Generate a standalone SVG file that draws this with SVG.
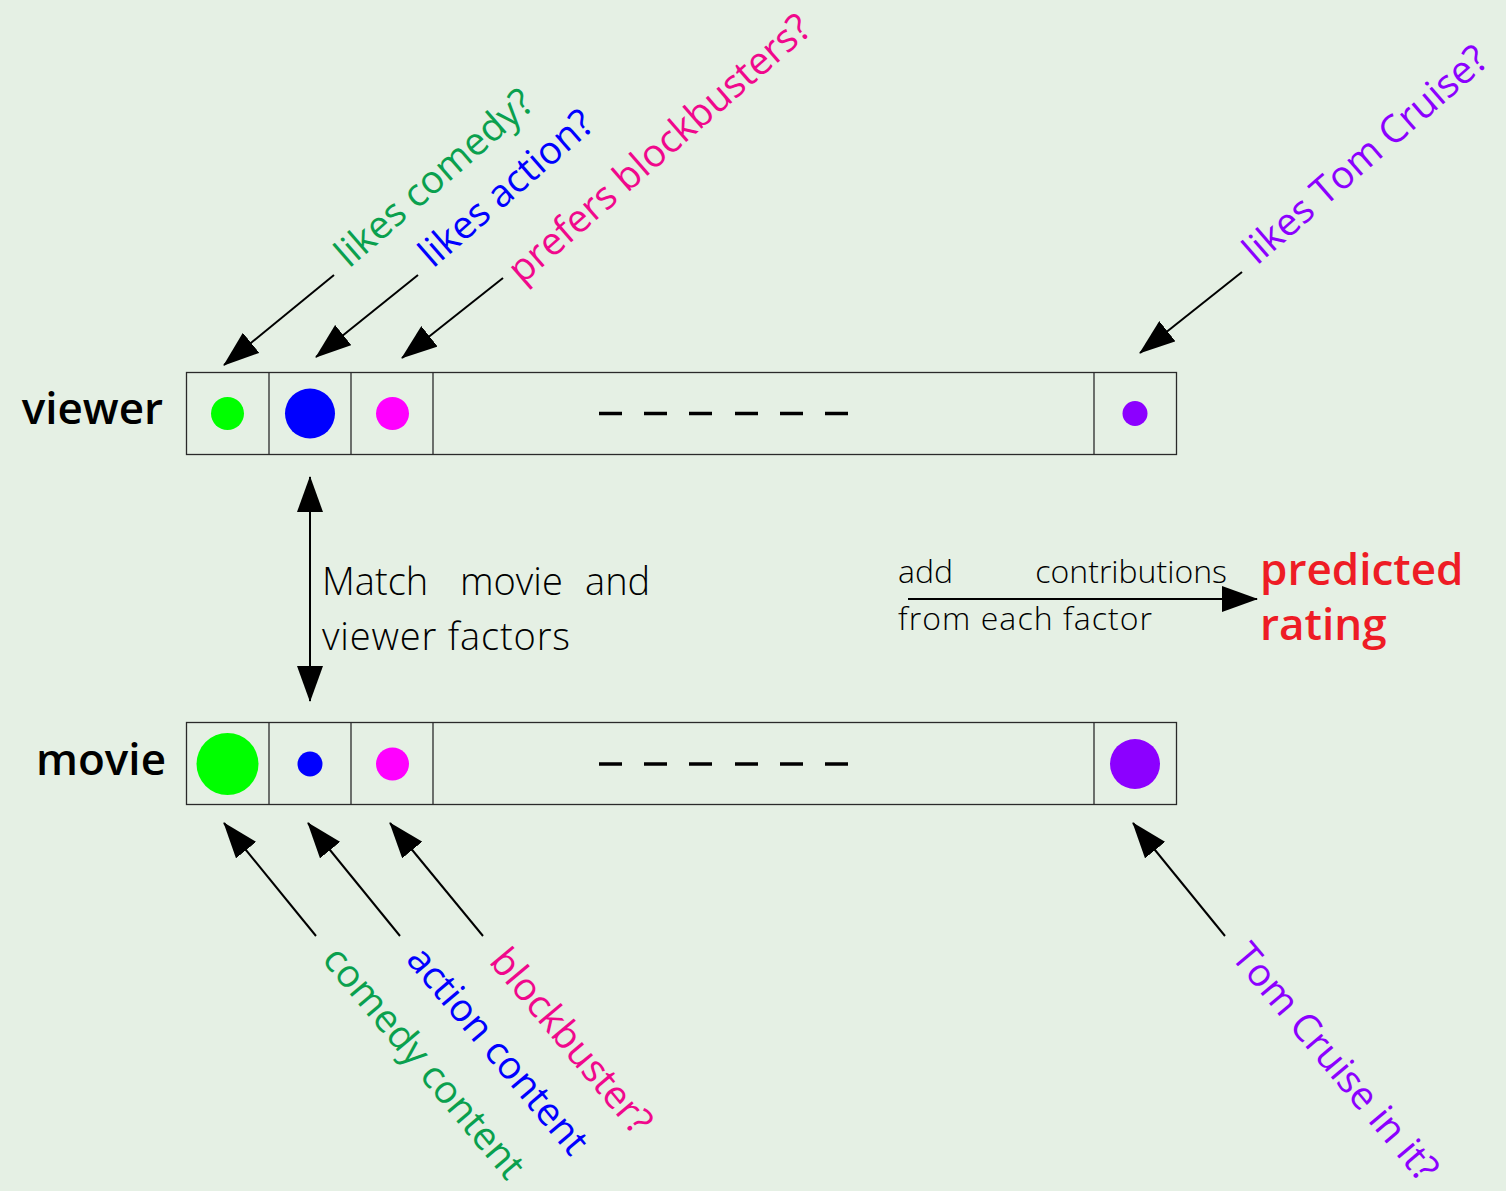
<svg xmlns="http://www.w3.org/2000/svg" width="1506" height="1191" viewBox="0 0 1506 1191">
<style>
.bg{fill:#e5f0e4}
.box{fill:none;stroke:#2a2a2a;stroke-width:1.3}
.dash{stroke:#000;stroke-width:3.5}
.arr{stroke:#000;stroke-width:2;fill:none}
.lbl{font-family:"Open Sans","Noto Sans",sans-serif;font-size:38.5px}
.name{font-family:"Open Sans","DejaVu Sans",sans-serif;font-weight:600;font-size:44px;fill:#000}
.thin{font-family:"Open Sans","Noto Sans",sans-serif;font-weight:300;fill:#000}
.red{font-family:"Open Sans","DejaVu Sans",sans-serif;font-weight:600;font-size:44px;fill:#ee1c25}
.g{fill:#0aa04e}.b{fill:#0000ff}.p{fill:#f0088c}.v{fill:#8c00ff}
</style>
<defs>
<marker id="ah" markerUnits="userSpaceOnUse" markerWidth="36" markerHeight="26" refX="35" refY="13" orient="auto-start-reverse">
<path d="M0,0 L36,13 L0,26 z" fill="#000"/>
</marker>
</defs>
<rect class="bg" x="0" y="0" width="1506" height="1191"/>

<g id="viewer">
<text class="name" x="163" y="424" text-anchor="end">viewer</text>
<rect class="box" x="186.5" y="372.5" width="990" height="82"/>
<line class="box" x1="269" y1="372.5" x2="269" y2="454.5"/>
<line class="box" x1="351" y1="372.5" x2="351" y2="454.5"/>
<line class="box" x1="433" y1="372.5" x2="433" y2="454.5"/>
<line class="box" x1="1094" y1="372.5" x2="1094" y2="454.5"/>
<circle cx="227.5" cy="413.5" r="16.5" fill="#00ff00"/>
<circle cx="310" cy="413.5" r="25" fill="#0000ff"/>
<circle cx="392.5" cy="413.5" r="16.5" fill="#ff00ff"/>
<circle cx="1135" cy="413.5" r="12.5" fill="#8c00ff"/>
<g class="dash">
<line x1="599" y1="413.5" x2="622" y2="413.5"/>
<line x1="644" y1="413.5" x2="667" y2="413.5"/>
<line x1="689" y1="413.5" x2="712" y2="413.5"/>
<line x1="735" y1="413.5" x2="758" y2="413.5"/>
<line x1="780" y1="413.5" x2="803" y2="413.5"/>
<line x1="825" y1="413.5" x2="848" y2="413.5"/>
</g>
</g>

<g id="movie">
<text class="name" x="166" y="775" text-anchor="end" font-size="46">movie</text>
<rect class="box" x="186.5" y="722.5" width="990" height="82"/>
<line class="box" x1="269" y1="722.5" x2="269" y2="804.5"/>
<line class="box" x1="351" y1="722.5" x2="351" y2="804.5"/>
<line class="box" x1="433" y1="722.5" x2="433" y2="804.5"/>
<line class="box" x1="1094" y1="722.5" x2="1094" y2="804.5"/>
<circle cx="227.5" cy="764" r="31" fill="#00ff00"/>
<circle cx="310" cy="764" r="12.5" fill="#0000ff"/>
<circle cx="392.5" cy="764" r="16.5" fill="#ff00ff"/>
<circle cx="1135" cy="764" r="25" fill="#8c00ff"/>
<g class="dash">
<line x1="599" y1="764" x2="622" y2="764"/>
<line x1="644" y1="764" x2="667" y2="764"/>
<line x1="689" y1="764" x2="712" y2="764"/>
<line x1="735" y1="764" x2="758" y2="764"/>
<line x1="780" y1="764" x2="803" y2="764"/>
<line x1="825" y1="764" x2="848" y2="764"/>
</g>
</g>

<g id="viewer-labels">
<text class="lbl g" transform="translate(349,269) rotate(-41)">likes comedy?</text>
<text class="lbl b" transform="translate(433,269) rotate(-41)">likes action?</text>
<text class="lbl p" font-size="34" transform="translate(522,285) rotate(-41)">prefers blockbusters?</text>
<text class="lbl v" transform="translate(1257,266) rotate(-41)">likes Tom Cruise?</text>
</g>

<g id="movie-labels">
<text class="lbl g" transform="translate(321,960) rotate(50)">comedy content</text>
<text class="lbl b" transform="translate(405,960) rotate(50)">action content</text>
<text class="lbl p" transform="translate(488,962) rotate(50)">blockbuster?</text>
<text class="lbl v" transform="translate(1230,957) rotate(50)">Tom Cruise in it?</text>
</g>

<g id="match-label">
<text class="thin" font-size="38" x="322" y="595">Match</text>
<text class="thin" font-size="38" x="460" y="595">movie</text>
<text class="thin" font-size="38" x="585" y="595">and</text>
<text class="thin" font-size="38" x="322" y="650" textLength="248">viewer factors</text>
</g>

<g id="sum-label">
<text class="thin" font-size="32" x="898" y="583">add</text>
<text class="thin" font-size="32" x="1227" y="583" text-anchor="end">contributions</text>
<text class="thin" font-size="32" x="898" y="630" textLength="254">from each factor</text>
</g>

<g id="prediction">
<text class="red" x="1260" y="585">predicted</text>
<text class="red" x="1260" y="640">rating</text>
</g>

<g id="connectors">
<line class="arr" x1="334" y1="275" x2="224" y2="365" marker-end="url(#ah)"/>
<line class="arr" x1="418" y1="275" x2="316" y2="357" marker-end="url(#ah)"/>
<line class="arr" x1="503" y1="278" x2="402" y2="358" marker-end="url(#ah)"/>
<line class="arr" x1="1242" y1="272" x2="1140" y2="353" marker-end="url(#ah)"/>
<line class="arr" x1="316" y1="936" x2="224" y2="823" marker-end="url(#ah)"/>
<line class="arr" x1="400" y1="936" x2="308" y2="823" marker-end="url(#ah)"/>
<line class="arr" x1="483" y1="936" x2="390" y2="823" marker-end="url(#ah)"/>
<line class="arr" x1="1225" y1="936" x2="1133" y2="823" marker-end="url(#ah)"/>
<line class="arr" x1="310" y1="477" x2="310" y2="701" marker-start="url(#ah)" marker-end="url(#ah)"/>
<line class="arr" x1="908" y1="599" x2="1257" y2="599" marker-end="url(#ah)"/>
</g>
</svg>
